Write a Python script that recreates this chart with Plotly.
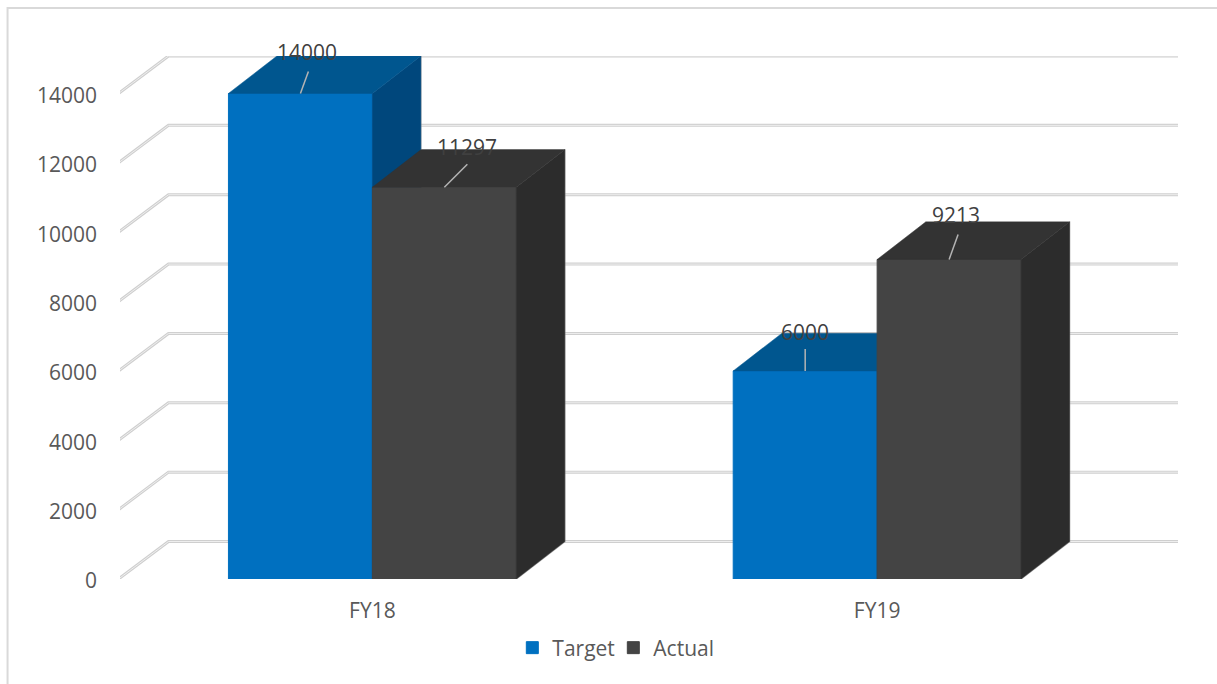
import plotly.graph_objects as go

# Chart values
categories = ["FY18", "FY19"]
target_values = [14000, 6000]
actual_values = [11297, 9213]
y_ticks = [0, 2000, 4000, 6000, 8000, 10000, 12000, 14000]

# Page and plot-area geometry, in pixels
PAGE_W, PAGE_H = 1217, 684
LEFT, RIGHT, TOP, BOTTOM = 119.5, 1178, 56, 579

# Oblique projection: how far the back plane sits from the front plane, in axis units
DEPTH_X = 48.5 / 505
DEPTH_Y = 37.5 / 0.0347
BAR_W = 144 / 505
GRID_OVERHANG = 1.5 / 505

X_MAX = 2 + DEPTH_X
Y_MAX = y_ticks[-1] + DEPTH_Y
centers = [i + 0.5 for i in range(len(categories))]

FONT = "Open Sans"
TICK_COLOR = "#595959"
LABEL_COLOR = "#404040"
HALO = "rgba(150,150,150,0.7)"

fig = go.Figure()


def add_line(xs, ys, color, width, axes=("x", "y")):
    fig.add_trace(go.Scatter(
        x=xs, y=ys, mode="lines", xaxis=axes[0], yaxis=axes[1],
        line=dict(color=color, width=width), cliponaxis=False,
        showlegend=False, hoverinfo="skip",
    ))


def add_face(xs, ys, color, axes):
    fig.add_trace(go.Scatter(
        x=xs + xs[:1], y=ys + ys[:1], mode="lines", fill="toself", fillcolor=color,
        line=dict(color=color, width=0.5), xaxis=axes[0], yaxis=axes[1],
        cliponaxis=False, showlegend=False, hoverinfo="skip",
    ))


# Floor-to-back-wall gridlines: a grey band with a pale core gives the bevelled look
for tick in y_ticks:
    gx = [-GRID_OVERHANG, DEPTH_X, X_MAX + GRID_OVERHANG]
    gy = [tick, tick + DEPTH_Y, tick + DEPTH_Y]
    add_line(gx, gy, "#cfcfcf", 3)
    add_line(gx, gy, "#eeeeee", 1)


def add_series(name, values, offset, front, side, top, axes):
    """Front faces are real bars; the side and top faces follow from the same values."""
    fig.add_trace(go.Bar(
        name=name, x=centers, y=values, width=BAR_W, offset=offset,
        marker=dict(color=front, line=dict(color=front, width=1)),
        xaxis=axes[0], yaxis=axes[1], hoverinfo="y",
    ))
    for cx, v in zip(centers, values):
        x0 = cx + offset
        x1 = x0 + BAR_W
        # Soft outline along the far edges of the block, under its faces
        add_line([x1, x1 + DEPTH_X, x1 + DEPTH_X, x0 + DEPTH_X],
                 [0, DEPTH_Y, v + DEPTH_Y, v + DEPTH_Y], HALO, 1.5, axes)
        add_face([x1, x1 + DEPTH_X, x1 + DEPTH_X, x1], [0, DEPTH_Y, v + DEPTH_Y, v], side, axes)
        add_face([x0, x0 + DEPTH_X, x1 + DEPTH_X, x1], [v, v + DEPTH_Y, v + DEPTH_Y, v], top, axes)


add_series("Target", target_values, -BAR_W, "#0070C0", "#00477C", "#00568F", ("x2", "y2"))
add_series("Actual", actual_values, 0, "#444444", "#2C2C2C", "#333333", ("x3", "y3"))

# Value labels with short leader lines rising from the middle of each bar's front edge.
# Offsets are (leader dx, leader dy, text dx, text dy) in pixels, per series and category.
PX_X = (RIGHT - LEFT) / X_MAX
PX_Y = (BOTTOM - TOP) / Y_MAX
label_offsets = {
    "Target": [(8, 22, 7, 41), (0, 22, 0, 39)],
    "Actual": [(23, 23, 23, 40), (9, 25, 7, 44)],
}
annotations = []
for name, values, shift in (("Target", target_values, -BAR_W / 2), ("Actual", actual_values, BAR_W / 2)):
    for cx, v, (lx, ly, tx, ty) in zip(centers, values, label_offsets[name]):
        bx = cx + shift
        add_line([bx, bx + lx / PX_X], [v, v + ly / PX_Y], "#b4b4b4", 1.5, ("x3", "y3"))
        annotations.append(dict(
            x=bx, y=v, xref="x3", yref="y3", text=str(v), showarrow=False,
            xshift=tx, yshift=ty, xanchor="center", yanchor="middle",
            font=dict(family=FONT, size=21, color=LABEL_COLOR),
        ))

x_range = [0, X_MAX]
y_range = [0, Y_MAX]
hidden_axis = dict(visible=False, fixedrange=True)

fig.update_layout(
    width=PAGE_W, height=PAGE_H,
    margin=dict(l=LEFT, r=PAGE_W - RIGHT, t=TOP, b=PAGE_H - BOTTOM, autoexpand=False),
    paper_bgcolor="white", plot_bgcolor="white",
    font=dict(family=FONT, size=21, color=TICK_COLOR),
    xaxis=dict(range=x_range, tickmode="array", tickvals=centers, ticktext=categories,
               showgrid=False, zeroline=False, showline=False, ticks="", ticklabelstandoff=17),
    yaxis=dict(range=y_range, tickmode="array", tickvals=y_ticks, ticktext=[str(t) for t in y_ticks],
               showgrid=False, zeroline=False, showline=False, ticks="", ticklabelstandoff=22,
               ticklabelshift=2),
    xaxis2=dict(range=x_range, overlaying="x", **hidden_axis),
    yaxis2=dict(range=y_range, overlaying="y", **hidden_axis),
    xaxis3=dict(range=x_range, overlaying="x", **hidden_axis),
    yaxis3=dict(range=y_range, overlaying="y", **hidden_axis),
    barmode="overlay",
    annotations=annotations,
    showlegend=True,
    legend=dict(orientation="h", xref="paper", yref="paper",
                x=(512 - LEFT) / (RIGHT - LEFT), y=(BOTTOM - 648) / (BOTTOM - TOP),
                xanchor="left", yanchor="middle", font=dict(size=21, color=TICK_COLOR),
                bgcolor="rgba(0,0,0,0)", traceorder="normal",
                entrywidth=56, entrywidthmode="pixels"),
    # Outer chart frame; only its top and left edges fall on the page
    shapes=[dict(
        type="rect", xref="paper", yref="paper", layer="below",
        x0=(7 - LEFT) / (RIGHT - LEFT), x1=(PAGE_W + 20 - LEFT) / (RIGHT - LEFT),
        y0=(BOTTOM - PAGE_H - 20) / (BOTTOM - TOP), y1=(BOTTOM - 8) / (BOTTOM - TOP),
        line=dict(color="#d9d9d9", width=2), fillcolor="rgba(0,0,0,0)",
    )],
)

fig.write_html("out.html")
